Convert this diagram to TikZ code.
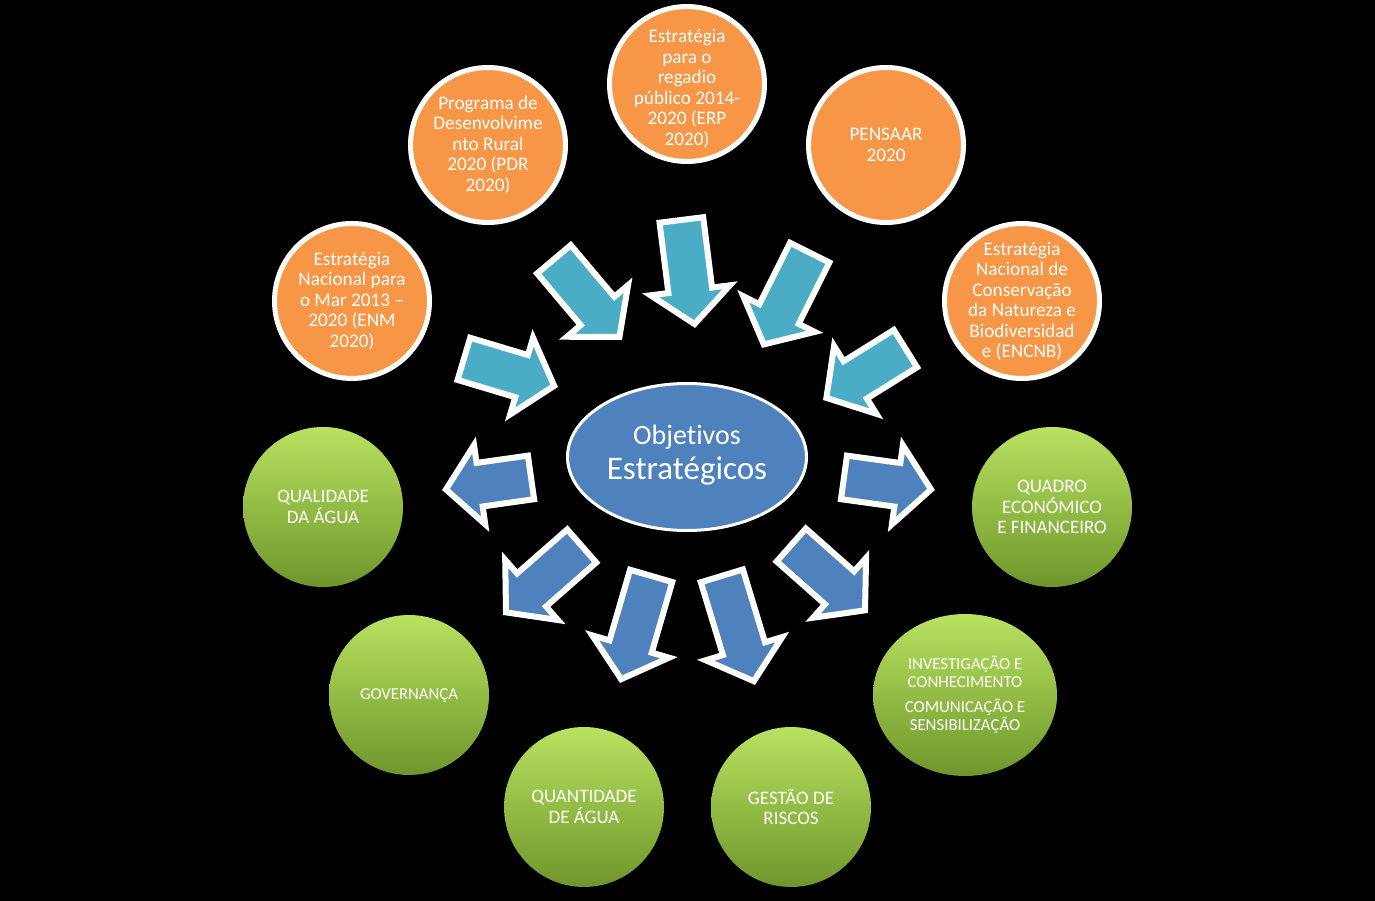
\documentclass[tikz,border=0pt]{standalone}
\usepackage{fontspec}
\setmainfont{Carlito}[Ligatures={TeX,NoCommon}]
\usetikzlibrary{calc,shapes.geometric}
\definecolor{orng}{HTML}{F79646}
\definecolor{cyanarr}{HTML}{4BACC6}
\definecolor{bluearr}{HTML}{4F81BD}
\definecolor{grtop}{RGB}{184,226,96}
\definecolor{grmid}{RGB}{160,206,80}
\definecolor{grbot}{RGB}{110,150,44}
\tikzset{
  orangeball/.style={circle, fill=orng, draw=white, line width=5pt, minimum size=155pt, inner sep=0pt},
  greenball/.style={circle, top color=grtop, middle color=grmid, bottom color=grbot, minimum size=160pt, inner sep=0pt},
  otxt/.style={text=white, align=center, font=\fontsize{19.2}{20.5}\selectfont},
  gtxt/.style={text=white, align=center, font=\fontsize{19}{20.5}\selectfont},
  inarrow/.style={fill=cyanarr, draw=white, line width=6pt, line join=miter},
  outarrow/.style={fill=bluearr, draw=white, line width=6pt, line join=miter},
}
\newcommand{\blockarr}[4]{%
  \coordinate (#1s) at ($#2!3pt!#3$);
  \coordinate (#1e) at ($#3!4pt!#2$);
  \coordinate (#1h) at ($(#1e)!34pt!(#1s)$);
  \draw[#4] ($(#1s)!22pt!90:(#1e)$) -- ($(#1h)!22pt!90:(#1e)$) -- ($(#1h)!40pt!90:(#1e)$) -- (#1e) -- ($(#1h)!40pt!-90:(#1e)$) -- ($(#1h)!22pt!-90:(#1e)$) -- ($(#1s)!22pt!-90:(#1e)$) -- cycle;
}
\begin{document}
\begin{tikzpicture}[x=1pt,y=-1pt]
\useasboundingbox (0,0) rectangle (1375,901);
\fill[black] (0,0) rectangle (1375,901);

% orange circles
\node[orangeball] (enm) at (352,301) {};
\node[otxt] at (enm) {Estratégia\\Nacional para\\o Mar 2013 –\\2020 (ENM\\2020)};
\node[orangeball] (pdr) at (488,145) {};
\node[otxt] at (pdr) {Programa de\\Desenvolvime\\nto Rural\\2020 (PDR\\2020)};
\node[orangeball] (erp) at (687,84) {};
\node[otxt] at ([yshift=-4.5]erp.center) {Estratégia\\para o\\regadio\\público 2014-\\2020 (ERP\\2020)};
\node[orangeball] (pens) at (886,145) {};
\node[otxt] at (pens) {PENSAAR\\2020};
\node[orangeball] (encnb) at (1022,301) {};
\node[otxt] at (encnb) {Estratégia\\Nacional de\\Conservação\\da Natureza e\\Biodiversidad\\e (ENCNB)};

% green circles
\node[greenball] (qual) at (323,507) {};
\node[gtxt] at (qual) {QUALIDADE\\DA ÁGUA};
\node[greenball] (gov) at (409,695) {};
\node[gtxt, font=\fontsize{16.7}{19}\selectfont] at (gov) {GOVERNANÇA};
\node[greenball] (quant) at (584,807) {};
\node[gtxt] at (quant) {QUANTIDADE\\DE ÁGUA};
\node[greenball] (gest) at (791,807) {};
\node[gtxt] at (gest) {GESTÃO DE\\RISCOS};
\node[greenball, ellipse, minimum width=184pt, minimum height=162pt] (inv) at (965,695) {};
\node[gtxt, font=\fontsize{16.8}{18}\selectfont] at (inv) {INVESTIGAÇÃO E\\CONHECIMENTO\\[7pt]COMUNICAÇÃO E\\SENSIBILIZAÇÃO};
\node[greenball] (quad) at (1052,507) {};
\node[gtxt] at (quad) {QUADRO\\ECONÓMICO\\E FINANCEIRO};

% incoming arrows
\blockarr{a1}{(461,358)}{(558,387)}{inarrow}
\blockarr{a2}{(552,257)}{(622,340)}{inarrow}
\blockarr{a3}{(681,217)}{(695,328)}{inarrow}
\blockarr{a4}{(811,250)}{(762,348)}{inarrow}
\blockarr{a5}{(908,347)}{(823,400)}{inarrow}

% outgoing arrows
\blockarr{b1}{(534,477)}{(442,490)}{outarrow}
\blockarr{b2}{(584,544)}{(503,615)}{outarrow}
\blockarr{b3}{(652,573)}{(620,683)}{outarrow}
\blockarr{b4}{(721,573)}{(755,685)}{outarrow}
\blockarr{b5}{(789,543)}{(868,613)}{outarrow}
\blockarr{b6}{(841,477)}{(935,490)}{outarrow}

% centre
\node[ellipse, fill=bluearr, draw=white, line width=3pt, minimum width=239pt, minimum height=147pt, inner sep=0pt] (obj) at (687,457) {};
\node[text=white, align=center] at ([yshift=2]obj.center) {\fontsize{28}{36}\selectfont Objetivos\\[6pt]\fontsize{33}{36}\selectfont Estratégicos};
\end{tikzpicture}
\end{document}
